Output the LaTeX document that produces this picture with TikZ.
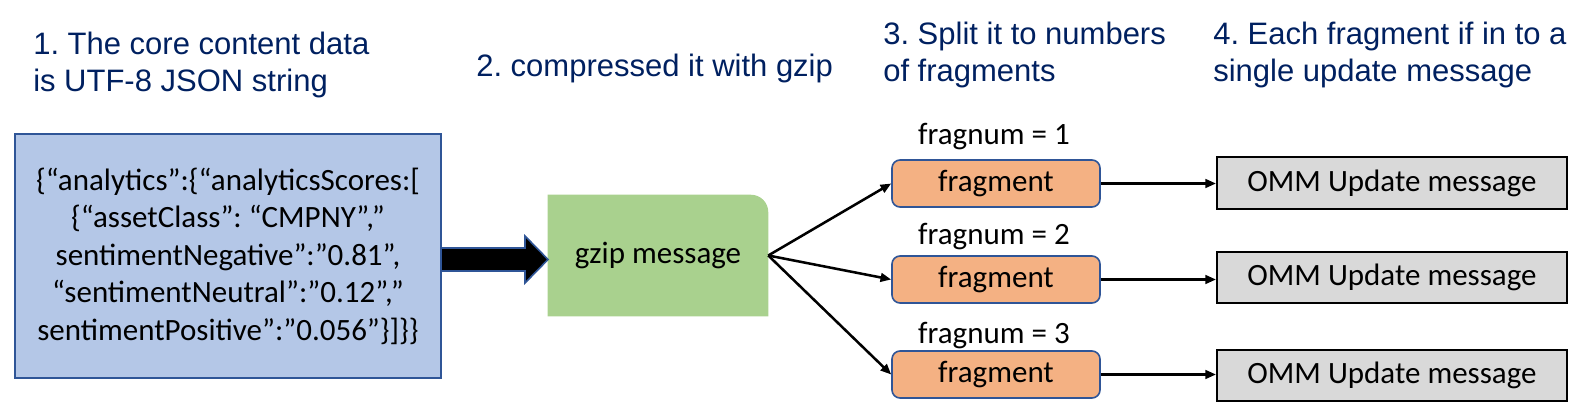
\documentclass[tikz,border=0pt]{standalone}
\usepackage{fontspec}
\setmainfont{Carlito}
\newfontfamily\headfont{Liberation Sans}
\usetikzlibrary{arrows.meta,backgrounds}
\frenchspacing
\definecolor{navy}{HTML}{002060}
\definecolor{jsonblue}{HTML}{B4C7E7}
\definecolor{edgeblue}{HTML}{2F5597}
\definecolor{gzgreen}{HTML}{A9D18E}
\definecolor{fragorange}{HTML}{F4B183}
\definecolor{ommgrey}{HTML}{D9D9D9}
\tikzset{
  heading/.style={anchor=base west, inner sep=0pt, text=navy,
    font=\headfont\frenchspacing\fontsize{23.25pt}{28pt}\selectfont},
  bodyfont/.style={font=\frenchspacing\fontsize{23.25pt}{28.1pt}\selectfont},
  jsonbox/.style={draw=edgeblue, fill=jsonblue, line width=1.5pt,
    minimum width=319.5pt, minimum height=183pt, align=center, inner sep=0pt, bodyfont},
  gzbox/.style={minimum width=165pt, minimum height=90.75pt, inner sep=0pt, bodyfont},
  fragbox/.style={draw=edgeblue, fill=fragorange, line width=1.2pt, rounded corners=6pt,
    minimum width=156pt, minimum height=35.25pt, inner sep=0pt, bodyfont},
  ommbox/.style={draw=black, fill=ommgrey, line width=1.5pt,
    minimum width=262.5pt, minimum height=38.5pt, inner sep=0pt, bodyfont},
  fraglabel/.style={anchor=base, inner sep=0pt, bodyfont},
  conn/.style={line width=1.9pt, -{Triangle[length=8pt,width=6.5pt]}},
  bigarrow/.style={fill=black, draw=edgeblue, line width=1.2pt, line join=miter}
}
\begin{document}
\begin{tikzpicture}[x=0.75pt, y=-0.75pt]
\useasboundingbox (0,0) rectangle (1581,420);

% headings
\node[heading] (h1a) at (33,55) {1. The core content data};
\node[heading] (h1b) at (33,92) {is UTF-8 JSON string};
\node[heading] (h2) at (476,77) {2. compressed it with gzip};
\node[heading] (h3a) at (883,45) {3. Split it to numbers};
\node[heading] (h3b) at (883,82) {of fragments};
\node[heading] (h4a) at (1213,45) {4. Each fragment if in to a};
\node[heading] (h4b) at (1213,82) {single update message};

% block arrow
\draw[bigarrow] (441,248) -- (525,248) -- (525,236) -- (548,259.5) -- (525,283) -- (525,271) -- (441,271) -- cycle;

% JSON box
\node[jsonbox] (json) at (228,256) {\{“analytics”:\{“analyticsScores:[\\
\{“assetClass”: “CMPNY”,”\\
sentimentNegative”:”0.81”,\\
“sentimentNeutral”:”0.12”,”\\
sentimentPositive”:”0.056”\}]\}\}};

% gzip box
\node[gzbox] (gz) at (658,255.5) {gzip message};
\begin{scope}[on background layer]
\fill[gzgreen] (gz.south west) -- (gz.north west) [rounded corners=13pt] -- (gz.north east) [sharp corners] -- (gz.south east) -- cycle;
\end{scope}

% fragments
\node[fragbox] (f1) at (996,183.5) {fragment};
\node[fragbox] (f2) at (996,279.5) {fragment};
\node[fragbox] (f3) at (996,374.5) {fragment};
\node[fraglabel] (l1) at (994,145) {fragnum = 1};
\node[fraglabel] (l2) at (994,245) {fragnum = 2};
\node[fraglabel] (l3) at (994,343) {fragnum = 3};

% OMM boxes
\node[ommbox] (o1) at (1392,183) {OMM Update message};
\node[ommbox] (o2) at (1392,277.5) {OMM Update message};
\node[ommbox] (o3) at (1392,375.5) {OMM Update message};

% connectors
\draw[conn] (gz.east) -- (f1.west);
\draw[conn] (gz.east) -- (f2.west);
\draw[conn] (gz.east) -- (f3.west);
\draw[conn] (f1.east) -- (f1.east -| o1.west);
\draw[conn] (f2.east) -- (f2.east -| o2.west);
\draw[conn] (f3.east) -- (f3.east -| o3.west);
\end{tikzpicture}
\end{document}
